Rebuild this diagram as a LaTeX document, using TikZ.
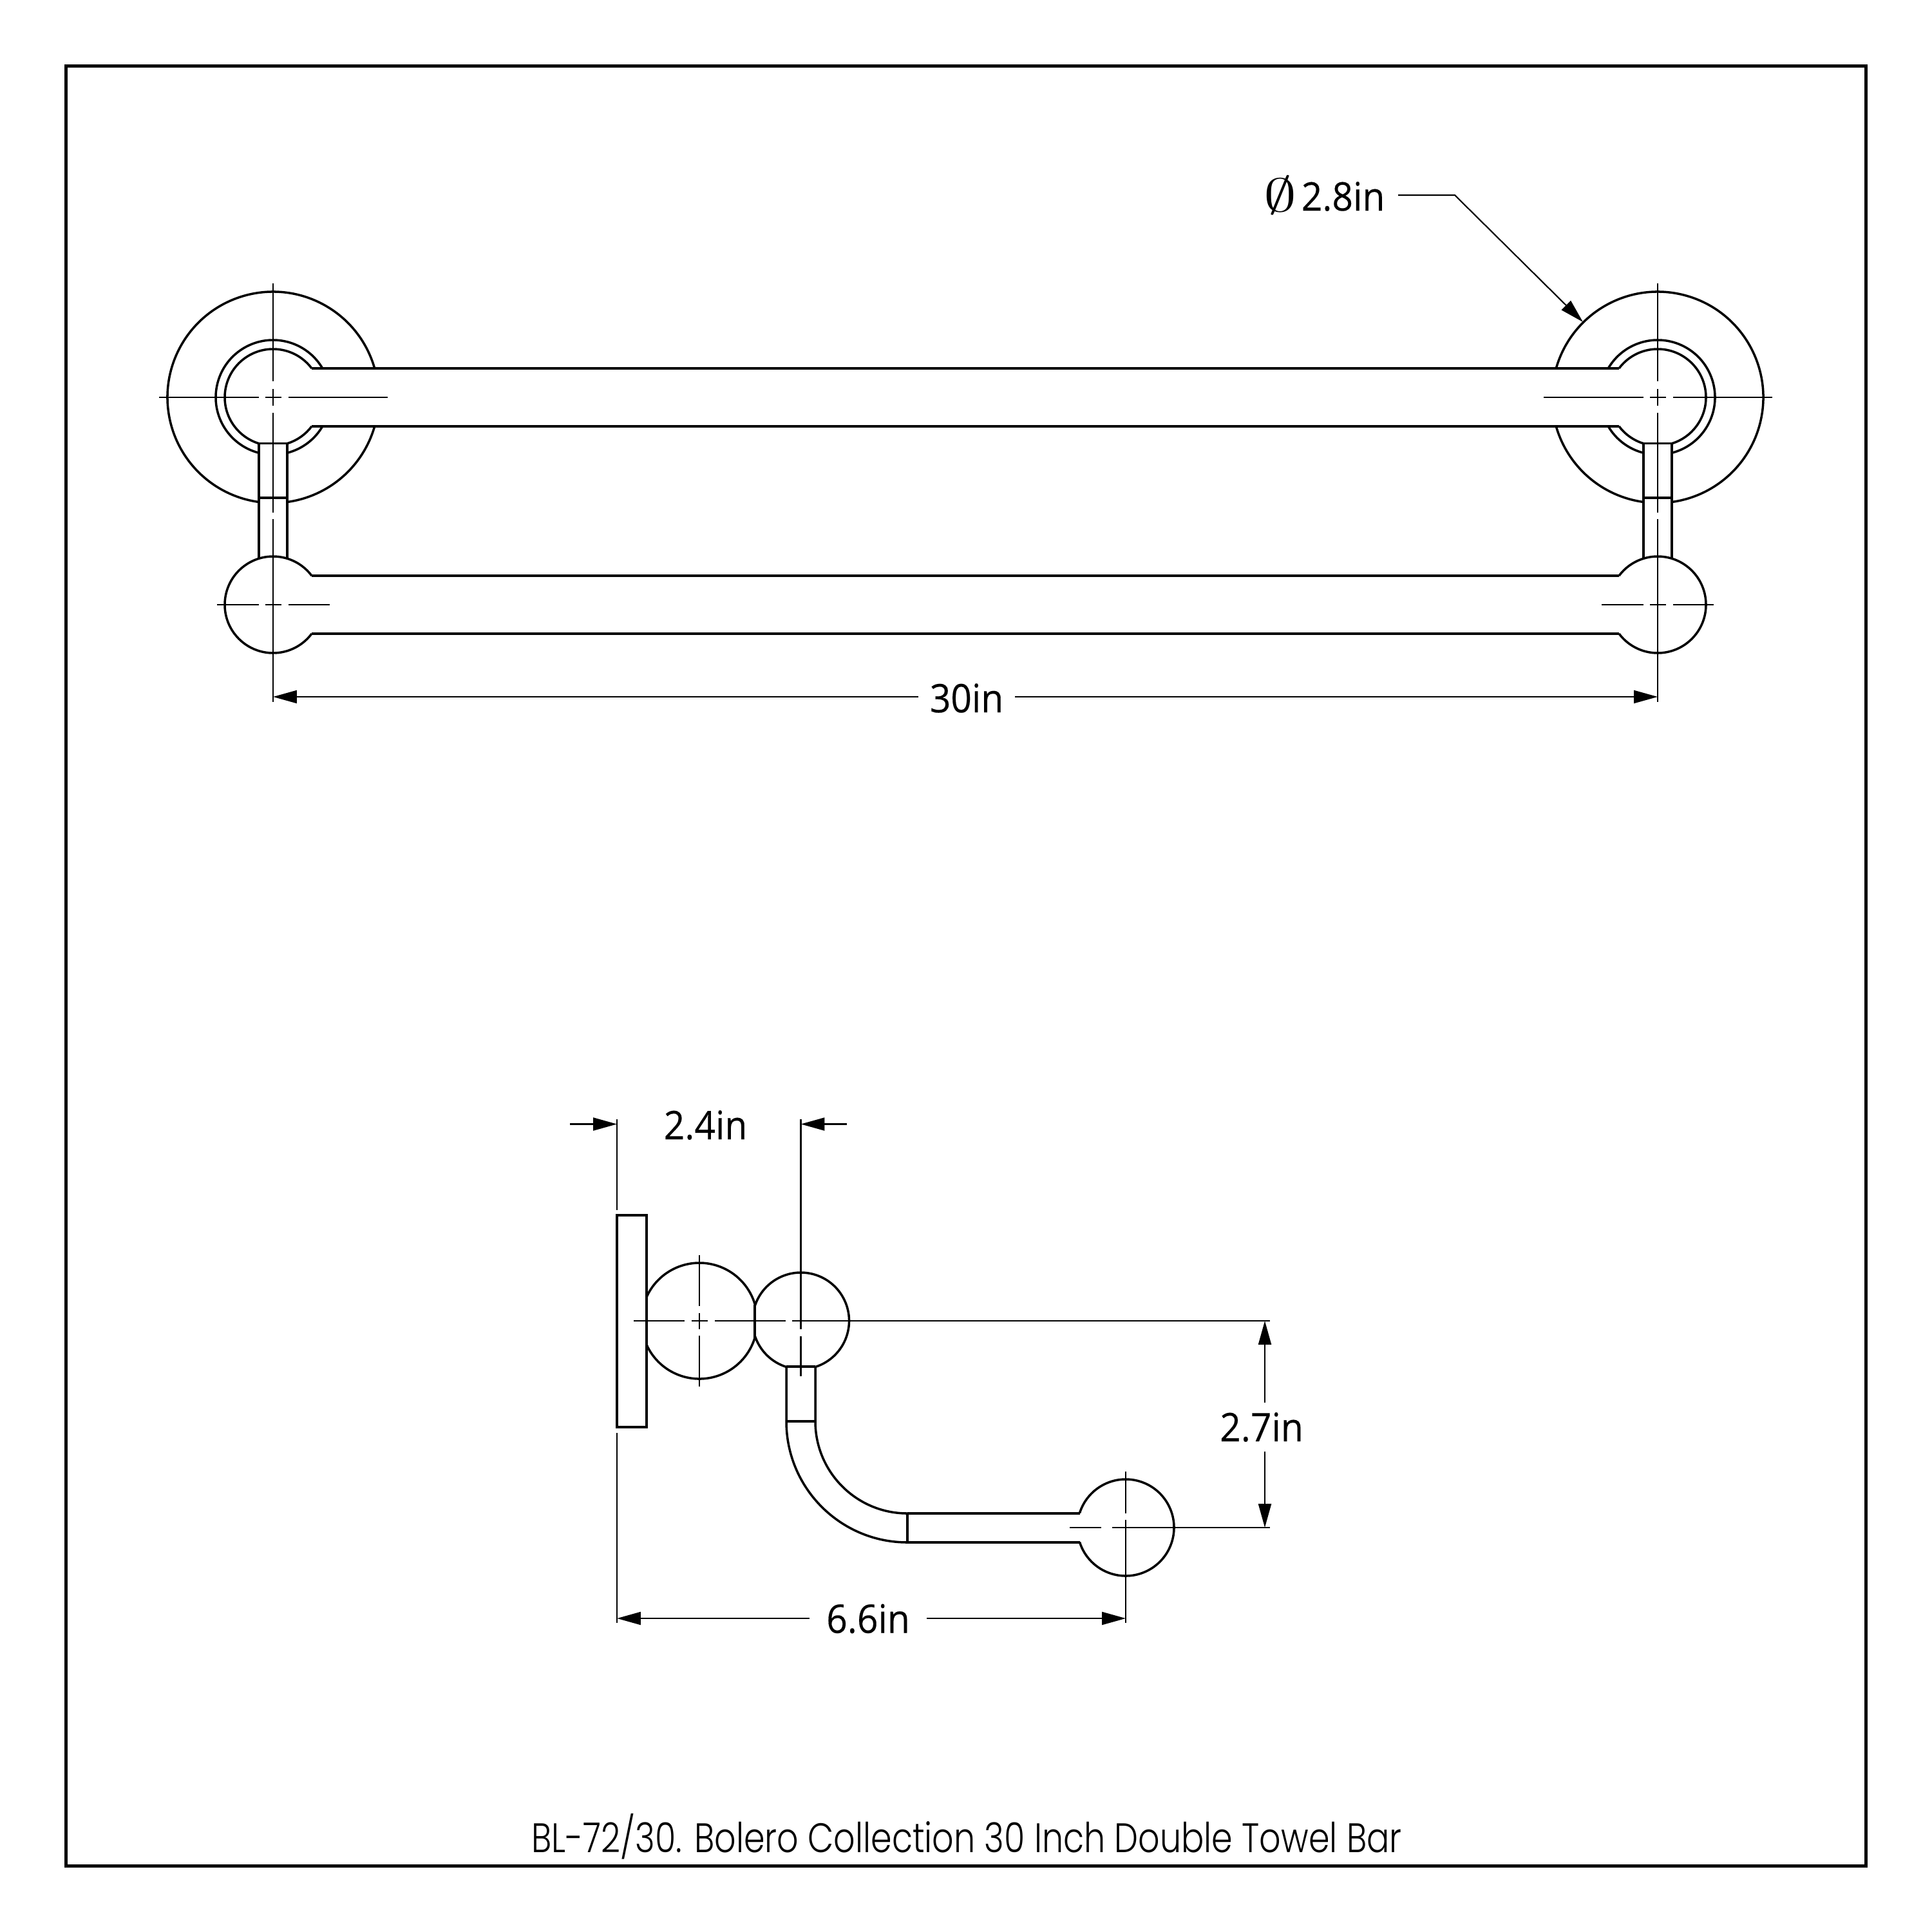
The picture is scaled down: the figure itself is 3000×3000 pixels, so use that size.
\documentclass[tikz,border=0pt]{standalone}
\usepackage{fontspec}
\usetikzlibrary{calc,arrows.meta}
\setmainfont[FakeStretch=0.93,FakeBold=0.2]{Open Sans}
\newfontfamily\titlefont[FakeStretch=0.818,UprightFont=* Light]{Poppins}
\tikzset{
  part/.style={draw=black,line width=1pt},
  center line/.style={draw=black,line width=0.6pt},
  dim line/.style={draw=black,line width=0.6pt},
  dim arrow/.style={dim line,-{Triangle[length=10.5pt,width=5.7pt]}},
  dim label/.style={inner xsep=4.5pt,inner ysep=4pt,font=\fontsize{17.4}{20}\selectfont},
}
\def\rodY{22}
\def\radiusMount{164}
\def\radiusRing{89}
\def\radiusBall{75}
% horizontal center mark of a bar end, #1 = left reach, #2 = right reach
\def\markH#1#2{
  \draw[center line] (#1,0) -- (-22,0) (-12,0) -- (13,0) (24,0) -- (#2,0);
}
\begin{document}
\begin{tikzpicture}[x=0.01cm,y=-0.01cm]
\useasboundingbox (0,0) rectangle (3000,3000);
% coordinates
\coordinate (mountL) at (424,617);
\coordinate (mountR) at (2574,617);
\coordinate (ballL) at (424,939);
\coordinate (ballR) at (2574,939);
\coordinate (sphereA) at (1086,2051);
\coordinate (sphereB) at (1243.5,2051);
\coordinate (sphereC) at (1748,2372);
% frame
\draw[line width=1.42pt] (102.5,102.5) rectangle (2897.5,2897.5);
% front view: bars
\draw[part] (484,572) -- (2514,572) (484,662) -- (2514,662);
\draw[part] (484,894) -- (2514,894) (484,984) -- (2514,984);
% front view: both ends
\foreach \mount/\ball/\dir in {mountL/ballL/1,mountR/ballR/-1}{
  \begin{scope}[shift={(\mount)},xscale=\dir]
    \draw[part] (-15.92:\radiusMount) arc [start angle=-15.92,end angle=-262.29,radius=\radiusMount];
    \draw[part] (82.29:\radiusMount) arc [start angle=82.29,end angle=15.92,radius=\radiusMount];
    \draw[part] (-30.37:\radiusRing) arc [start angle=-30.37,end angle=-255.69,radius=\radiusRing];
    \draw[part] (75.69:\radiusRing) arc [start angle=75.69,end angle=30.37,radius=\radiusRing];
    \draw[part] (-36.87:\radiusBall) arc [start angle=-36.87,end angle=-252.94,radius=\radiusBall];
    \draw[part] (72.94:\radiusBall) arc [start angle=72.94,end angle=36.87,radius=\radiusBall];
    \draw[part] (-\rodY,71.7) -- (\rodY,71.7) (-\rodY,156) -- (\rodY,156);
    \draw[part] (-\rodY,71.7) -- (-\rodY,250.5) (\rodY,71.7) -- (\rodY,250.5);
  \end{scope}
  \begin{scope}[shift={(\ball)},xscale=\dir]
    \draw[part] (-36.87:\radiusBall) arc [start angle=-36.87,end angle=-323.13,radius=\radiusBall];
  \end{scope}
}
% front view: center lines
\begin{scope}[shift={(mountL)}]\markH{-177}{178}\end{scope}
\begin{scope}[shift={(mountR)}]\markH{-177}{178}\end{scope}
\begin{scope}[shift={(ballL)}]\markH{-87}{88}\end{scope}
\begin{scope}[shift={(ballR)}]\markH{-87}{87}\end{scope}
\foreach \x in {424,2574}{
  \draw[center line] (\x,440) -- (\x,592) (\x,604) -- (\x,630) (\x,641) -- (\x,796) (\x,806) -- (\x,1090);
}
% front view: dimensions
\node[dim label,inner xsep=4.8pt] (lengthLabel) at (1501,1084) {30in};
\coordinate (lengthL) at (424,1082);
\coordinate (lengthR) at (2574,1082);
\draw[dim arrow] (lengthLabel.west |- lengthL) -- (lengthL);
\draw[dim arrow] (lengthLabel.east |- lengthR) -- (lengthR);
\node[dim label,inner xsep=0pt,anchor=east] (diameterLabel) at (2151,305) {2.8in};
\node[inner sep=0pt,font=\fontsize{20.74}{22}\selectfont] (diameterSign) at (1988,303) {\scalebox{1.4}[1]{$\emptyset$}};
\coordinate (diameterStart) at (2171,303);
\coordinate (diameterBend) at (2259,303);
\coordinate (diameterTip) at (2458,500);
\draw[dim arrow] (diameterStart) -- (diameterBend) -- (diameterTip);
% side view: plate and spheres
\draw[part] (958,1887) rectangle (1004,2216);
\draw[part] (1172,2026) -- (1172,2077);
\draw[part] ($(sphereA)+(-155.8:90)$) arc [start angle=-155.8,end angle=-16.4,radius=90];
\draw[part] ($(sphereA)+(155.8:90)$) arc [start angle=155.8,end angle=16.4,radius=90];
\draw[part] ($(sphereB)+(-161.3:75)$) arc [start angle=-161.3,end angle=72,radius=75];
\draw[part] ($(sphereB)+(161.3:75)$) arc [start angle=161.3,end angle=107,radius=75];
% side view: bent rod
\draw[part] (1221,2122) -- (1266,2122) (1221,2207) -- (1266,2207);
\draw[part] (1221,2122) -- (1221,2207) arc [start angle=180,end angle=90,radius=188];
\draw[part] (1266,2122) -- (1266,2207) arc [start angle=180,end angle=90,radius=143];
\draw[part] (1409,2350) -- (1409,2395);
\draw[part] (1409,2350) -- (1677,2350) (1409,2395) -- (1677,2395);
\draw[part] ($(sphereC)+(-162.5:75)$) arc [start angle=-162.5,end angle=162.5,radius=75];
% side view: center lines
\draw[center line] (984,2051) -- (1063,2051) (1073.5,2051) -- (1099,2051) (1109.5,2051) -- (1220,2051) (1230,2051) -- (1972,2051);
\draw[center line] (1086,1949) -- (1086,2028) (1086,2039) -- (1086,2064) (1086,2074) -- (1086,2153);
\draw[center line] (1243.5,1738) -- (1243.5,2064) (1243.5,2075) -- (1243.5,2137);
\draw[center line] (1661,2372) -- (1710,2372) (1727,2372) -- (1972,2372);
\draw[center line] (1748,2285) -- (1748,2350) (1748,2360) -- (1748,2520);
\draw[center line] (958,1738) -- (958,1879) (958,2225) -- (958,2520);
% side view: dimensions
\node[dim label] (wallLabel) at (1095.5,1747) {2.4in};
\coordinate (wallStartL) at (885,1745.5);
\coordinate (wallStartR) at (1315,1745.5);
\coordinate (wallL) at (958,1745.5);
\coordinate (wallR) at (1243.5,1745.5);
\draw[dim arrow] (wallStartL) -- (wallL);
\draw[dim arrow] (wallStartR) -- (wallR);
\node[dim label] (dropLabel) at (1959,2216) {2.7in};
\coordinate (dropT) at (1964,2051);
\coordinate (dropB) at (1964,2372);
\draw[dim arrow] (dropLabel.north -| dropT) -- (dropT);
\draw[dim arrow] (dropLabel.south -| dropB) -- (dropB);
\node[dim label,inner xsep=7.2pt] (depthLabel) at (1348,2513.5) {6.6in};
\coordinate (depthL) at (958,2513);
\coordinate (depthR) at (1748,2513);
\draw[dim arrow] (depthLabel.west |- depthL) -- (depthL);
\draw[dim arrow] (depthLabel.east |- depthR) -- (depthR);
% title
\node[font=\titlefont\fontsize{18.2}{22}\selectfont] (titleText) at (1501,2852) {BL-72/30. Bolero Collection 30 Inch Double Towel Bar};
\end{tikzpicture}
\end{document}
